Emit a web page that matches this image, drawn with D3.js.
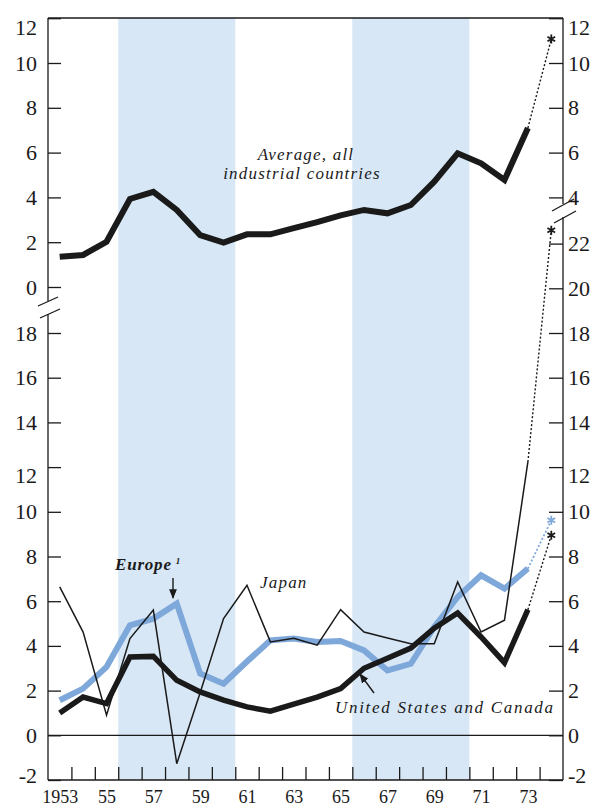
<!DOCTYPE html>
<html><head><meta charset="utf-8">
<script src="https://cdn.jsdelivr.net/npm/d3@7"></script>
<style>
body{margin:0;background:#fff}
svg text{font-family:"Liberation Serif","DejaVu Serif",serif;fill:#1a1a1a}
</style>
</head><body><svg id="c" width="597" height="807"></svg>
<script>
// ---- data ----
const years = d3.range(1953, 1974); // 1953..1973
const average  = [1.35,1.43,2.02,3.93,4.25,3.44,2.32,1.98,2.35,2.35,2.63,2.9,3.2,3.44,3.29,3.66,4.7,5.97,5.52,4.78,7.1];
const usCanada = [1.0,1.71,1.42,3.5,3.53,2.46,1.94,1.57,1.27,1.08,1.4,1.71,2.09,3.0,3.45,3.9,4.79,5.47,4.4,3.25,5.62];
const europe   = [1.57,2.09,3.06,4.92,5.22,5.89,2.76,2.31,3.3,4.25,4.33,4.18,4.22,3.8,2.9,3.2,4.85,6.19,7.16,6.56,7.46];
const japan    = [6.64,4.62,0.9,4.33,5.6,-1.27,1.9,5.22,6.71,4.18,4.34,4.03,5.62,4.62,4.35,4.1,4.1,6.86,4.62,5.15,12.23];
const projYear = 1974;
const projAverage = 11.07, projUS = 8.95, projEurope = 9.62, projJapan = 22.6;
const shadedPeriods = [[1955.5,1960.5],[1965.5,1970.5]];
const xLabelYears = [1953,1955,1957,1959,1961,1963,1965,1967,1969,1971,1973];
const xLabelText  = ["1953","55","57","59","61","63","65","67","69","71","73"];
const upperTicksLeft  = [0,2,4,6,8,10,12];
const upperTicksRight = [4,6,8,10,12];
const lowerTicksLeft  = [-2,0,2,4,6,8,10,12,14,16,18];
const lowerTicksRight = [-2,0,2,4,6,8,10,12,14,16,18,20,22];

// ---- layout ----
const svg = d3.select("#c");
const L = 48, R = 563, TOP = 18, BOT = 780;
const x  = d3.scaleLinear().domain([1952.5, 1974.5]).range([L, R]);
const yU = d3.scaleLinear().domain([0, 12]).range([287, 18.2]);
const yL = d3.scaleLinear().domain([-2, 22]).range([BOT, 243.6]);
const ink = "#1a1a1a", blue = "#7ea7da", band = "#d7e7f6";
const fmt = d => String(d);

// shaded bands
svg.selectAll("rect.band").data(shadedPeriods).join("rect")
  .attr("x", d => x(d[0])).attr("width", d => x(d[1]) - x(d[0]))
  .attr("y", TOP).attr("height", BOT - TOP).attr("fill", band);

// frame lines
const frame = svg.append("g").attr("stroke", ink).attr("stroke-width", 1.3).attr("fill", "none");
frame.append("line").attr("x1", L).attr("x2", R).attr("y1", TOP).attr("y2", TOP);
frame.append("line").attr("x1", L).attr("x2", R).attr("y1", BOT).attr("y2", BOT);
frame.append("line").attr("x1", L).attr("x2", L).attr("y1", TOP).attr("y2", 301);
frame.append("line").attr("x1", L).attr("x2", L).attr("y1", 314).attr("y2", BOT);
frame.append("line").attr("x1", R).attr("x2", R).attr("y1", TOP).attr("y2", 204);
frame.append("line").attr("x1", R).attr("x2", R).attr("y1", 217).attr("y2", BOT);
// break marks
[[38,306,58,297],[40,318,60,309],[552,211,574,199],[554,223,576,211]].forEach(s =>
  frame.append("line").attr("x1", s[0]).attr("y1", s[1]).attr("x2", s[2]).attr("y2", s[3]));
// zero line
frame.append("line").attr("x1", L).attr("x2", R).attr("y1", yL(0)).attr("y2", yL(0)).attr("stroke-width", 1.2);

function styleAxis(g, size) {
  g.select(".domain").remove();
  g.selectAll(".tick line").attr("stroke", ink).attr("stroke-width", 1.3);
  g.selectAll(".tick text").attr("font-size", size).attr("fill", ink);
}
function shift(g) {
  g.selectAll(".tick text").attr("dy", d => d === 12 ? "0.72em" : (d === -2 ? "0.12em" : "0.32em"));
}
// left axes
svg.append("g").attr("transform", `translate(${L},0)`)
  .call(d3.axisLeft(yU).tickValues(upperTicksLeft).tickFormat(fmt).tickSize(-13).tickPadding(11))
  .call(g => styleAxis(g, 22)).call(shift);
svg.append("g").attr("transform", `translate(${L},0)`)
  .call(d3.axisLeft(yL).tickValues(lowerTicksLeft).tickFormat(fmt).tickSize(-13).tickPadding(11))
  .call(g => styleAxis(g, 22)).call(shift);
// right axes
svg.append("g").attr("transform", `translate(${R},0)`)
  .call(d3.axisRight(yU).tickValues(upperTicksRight).tickFormat(fmt).tickSize(-14).tickPadding(5))
  .call(g => styleAxis(g, 22)).call(shift);
svg.append("g").attr("transform", `translate(${R},0)`)
  .call(d3.axisRight(yL).tickValues(lowerTicksRight).tickFormat(fmt).tickSize(-14).tickPadding(5))
  .call(g => styleAxis(g, 22)).call(shift);
// bottom ticks (year boundaries) and labels (year centres)
svg.append("g").attr("transform", `translate(0,${BOT})`)
  .call(d3.axisBottom(x).tickValues(d3.range(1953.5, 1974, 1)).tickSize(-13).tickFormat(""))
  .call(g => styleAxis(g, 18));
svg.append("g").attr("transform", `translate(0,${BOT})`)
  .call(d3.axisBottom(x).tickValues(xLabelYears).tickSize(0).tickPadding(10)
        .tickFormat((d, i) => xLabelText[i]))
  .call(g => { styleAxis(g, 18); g.selectAll(".tick line").remove(); });

// ---- lines ----
const lineU = d3.line().x((d, i) => x(years[i])).y(d => yU(d));
const lineL = d3.line().x((d, i) => x(years[i])).y(d => yL(d));
const last = years.length - 1;

function proj(scale, v0, v1, color, w) {
  svg.append("line").attr("x1", x(years[last])).attr("y1", scale(v0))
    .attr("x2", x(projYear)).attr("y2", scale(v1))
    .attr("stroke", color).attr("stroke-width", w).attr("stroke-dasharray", "2,2");
}
function star(scale, v, color) {
  svg.append("path").attr("d", d3.symbol(d3.symbolAsterisk, 55)())
    .attr("transform", `translate(${x(projYear)},${scale(v)})`)
    .attr("fill", "none").attr("stroke", color).attr("stroke-width", 1.8);
}

// upper panel
svg.append("path").datum(average).attr("d", lineU)
  .attr("fill", "none").attr("stroke", ink).attr("stroke-width", 6).attr("stroke-linejoin", "miter").attr("stroke-miterlimit", 3);
proj(yU, average[last], projAverage, ink, 1.4);
star(yU, projAverage, ink);

// lower panel
svg.append("path").datum(europe).attr("d", lineL)
  .attr("fill", "none").attr("stroke", blue).attr("stroke-width", 6).attr("stroke-linejoin", "miter").attr("stroke-miterlimit", 3);
proj(yL, europe[last], projEurope, blue, 1.8);
star(yL, projEurope, blue);

svg.append("path").datum(usCanada).attr("d", lineL)
  .attr("fill", "none").attr("stroke", ink).attr("stroke-width", 5.5).attr("stroke-linejoin", "miter").attr("stroke-miterlimit", 3);
proj(yL, usCanada[last], projUS, ink, 1.4);
star(yL, projUS, ink);

svg.append("path").datum(japan).attr("d", lineL)
  .attr("fill", "none").attr("stroke", ink).attr("stroke-width", 1.5).attr("stroke-linejoin", "miter");
proj(yL, japan[last], projJapan, ink, 1.4);
star(yL, projJapan, ink);

// ---- annotations ----
const ann = svg.append("g").attr("font-style", "italic").attr("font-size", 17);
ann.append("text").attr("x", 306).attr("y", 160).attr("text-anchor", "middle")
  .attr("letter-spacing", 1.2).text("Average, all");
ann.append("text").attr("x", 302).attr("y", 179).attr("text-anchor", "middle")
  .attr("letter-spacing", 1.2).text("industrial countries");
const eu = ann.append("text").attr("x", 115).attr("y", 570).attr("font-weight", "bold").attr("letter-spacing", 0.8);
eu.append("tspan").text("Europe");
eu.append("tspan").attr("font-size", 9).attr("dx", 4).attr("dy", -6).text("1");
ann.append("text").attr("x", 260).attr("y", 588).attr("letter-spacing", 1.2).text("Japan");
ann.append("text").attr("x", 335).attr("y", 713).attr("letter-spacing", 1.7).text("United States and Canada");

// arrows
const defs = svg.append("defs");
defs.append("marker").attr("id", "ah").attr("viewBox", "0 0 10 10").attr("refX", 9).attr("refY", 5)
  .attr("markerWidth", 7).attr("markerHeight", 7).attr("orient", "auto")
  .append("path").attr("d", "M0,1 L10,5 L0,9 Z").attr("fill", ink);
svg.append("line").attr("x1", 173).attr("y1", 578).attr("x2", 173).attr("y2", 598)
  .attr("stroke", ink).attr("stroke-width", 1.4).attr("marker-end", "url(#ah)");
svg.append("line").attr("x1", 374).attr("y1", 693).attr("x2", 360).attr("y2", 674)
  .attr("stroke", ink).attr("stroke-width", 1.4).attr("marker-end", "url(#ah)");
</script>
</body></html>
